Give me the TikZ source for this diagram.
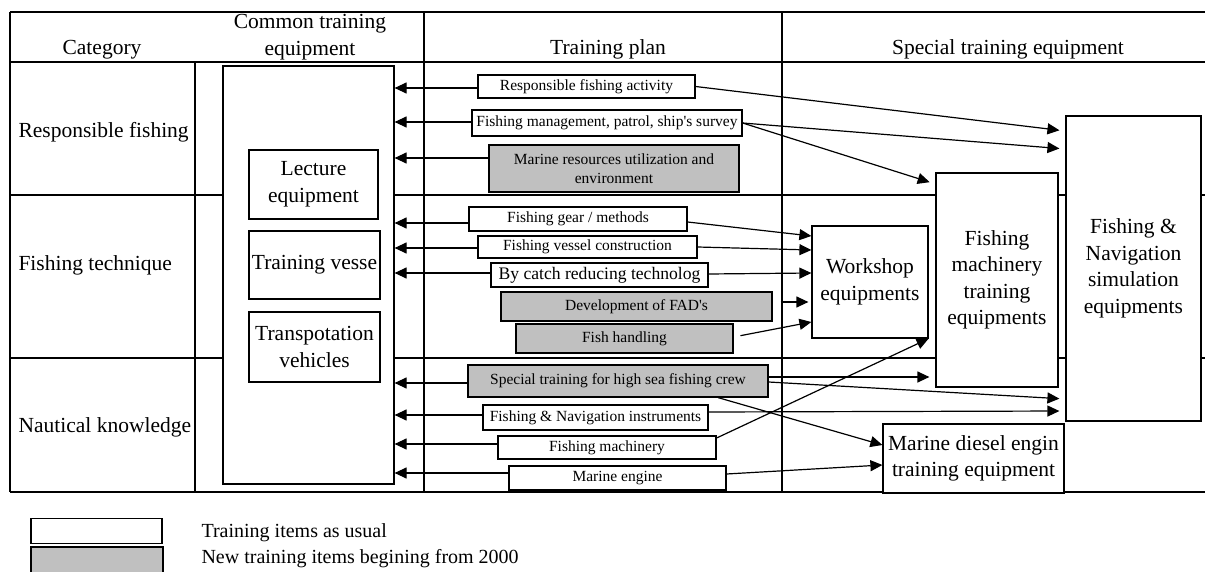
\documentclass[tikz,border=0pt]{standalone}
\usepackage{fontspec}
\setmainfont{Liberation Serif}
\usetikzlibrary{arrows.meta}
\definecolor{newitem}{RGB}{192,192,192}
\newcommand{\bigtxt}{\fontsize{21.5}{26.5}\selectfont}
\newcommand{\smalltxt}{\fontsize{15.5}{19}\selectfont}
\newcommand{\midtxt}{\fontsize{17.6}{20}\selectfont}
\newcommand{\legtxt}{\fontsize{20}{24}\selectfont}

\begin{document}
\begin{tikzpicture}[x=1pt,y=-1pt,
    tableline/.style={line width=1.2pt},
    box/.style={draw, line width=1.2pt, fill=white, inner sep=0pt, align=center},
    item/.style={box, font=\smalltxt},
    newbox/.style={item, fill=newitem},
    equip/.style={box, font=\bigtxt},
    arr/.style={line width=1.2pt, -{Triangle[length=12pt,width=11pt]}},
    short/.style={shorten >=6pt}]
  \useasboundingbox (0,0) rectangle (1205,572);
  % Table rules
  \foreach \yy in {12,62,195,358,492}
    \draw[tableline] (10,\yy) -- (1205,\yy);
  \draw[tableline] (10,12) -- (10,492);
  \draw[tableline] (195,62) -- (195,492);
  \draw[tableline] (424,12) -- (424,492);
  \draw[tableline] (782,12) -- (782,492);
  % Header
  \node[anchor=base, font=\bigtxt] (hcat) at (102,55) {Category};
  \node[font=\bigtxt, align=center] (hcom) at (310,37) {Common training\\equipment};
  \node[anchor=base, font=\bigtxt] (hplan) at (608,55) {Training plan};
  \node[anchor=base, font=\bigtxt] (hspec) at (1008,55) {Special training equipment};
  % Categories
  \node[anchor=base west, font=\bigtxt] (crf) at (15,138) {Responsible fishing};
  \node[anchor=base west, font=\bigtxt] (cft) at (15,270) {Fishing technique};
  \node[anchor=base west, font=\bigtxt] (cnk) at (15,432) {Nautical knowledge};
  % Common training equipment
  \node[box, minimum width=171pt, minimum height=418pt] (com) at (308.5,275) {};
  \node[equip, minimum width=129pt, minimum height=69pt] (lec) at (313.5,184.5) {Lecture\\equipment};
  \node[equip, minimum width=131pt, minimum height=68pt] (tves) at (314.5,265) {Training vesse};
  \node[equip, minimum width=131pt, minimum height=70pt] (trv) at (314.5,347) {Transpotation\\vehicles};
  % Training plan: responsible fishing
  \node[item, minimum width=217pt, minimum height=23pt] (rfa) at (586.5,86.5) {Responsible fishing activity};
  \node[item, minimum width=270pt, minimum height=26pt] (fmp) at (607,123) {Fishing management, patrol, ship\textquotesingle s survey};
  \node[newbox, minimum width=250pt, minimum height=47pt] (mru) at (614,168.5) {Marine resources utilization and\\environment};
  % Training plan: fishing technique
  \node[item, minimum width=218pt, minimum height=24pt] (fgm) at (578,219) {Fishing gear / methods};
  \node[item, minimum width=219pt, minimum height=22pt] (fvc) at (587.5,247) {Fishing vessel construction};
  \node[item, font=\midtxt, minimum width=217pt, minimum height=24pt] (bct) at (599.5,275) {By catch reducing technolog};
  \node[newbox, minimum width=271pt, minimum height=29pt] (fad) at (636.5,306.5) {Development of FAD\textquotesingle s};
  \node[newbox, minimum width=217pt, minimum height=29pt] (fh) at (624.5,338.5) {Fish handling};
  % Training plan: nautical knowledge
  \node[newbox, minimum width=300pt, minimum height=32pt] (stc) at (618,381) {Special training for high sea fishing crew};
  \node[item, minimum width=225pt, minimum height=25pt] (fni) at (595.5,417.5) {Fishing \& Navigation instruments};
  \node[item, minimum width=218pt, minimum height=23pt] (fmc) at (607,447.5) {Fishing machinery};
  \node[item, minimum width=217pt, minimum height=24pt] (men) at (617.5,478) {Marine engine};
  % Special training equipment
  \node[equip, minimum width=116pt, minimum height=112pt] (wsh) at (870,282) {Workshop\\equipments};
  \node[equip, minimum width=122pt, minimum height=214pt] (fmt) at (997,280) {Fishing\\machinery\\training\\equipments};
  \node[equip, minimum width=135pt, minimum height=305pt] (fns) at (1133.5,268.5) {Fishing \&\\Navigation\\simulation\\equipments};
  \node[equip, minimum width=181pt, minimum height=69pt] (mde) at (973.5,458.5) {Marine diesel engin\\training equipment};
  % Arrows to common equipment
  \foreach \nd/\yy in {rfa/88,fmp/122,mru/158,fgm/223,fvc/248,bct/273,stc/383,fni/415,fmc/444,men/473}
    \draw[arr] (\nd.west |- {(0,\yy)}) -- (com.east |- {(0,\yy)});
  % Arrows to special equipment
  \draw[arr, short] (rfa.east) -- (fns.west |- {(0,131)});
  \draw[arr, short] (fmp.east) -- (fns.west |- {(0,149)});
  \draw[arr, short] (fmp.east) -- (fmt.west |- {(0,184)});
  \draw[arr] (fgm.east |- {(0,222)}) -- (wsh.west |- {(0,236)});
  \draw[arr] (fvc.east) -- (wsh.west |- {(0,250)});
  \draw[arr] (bct.east |- {(0,274)}) -- (wsh.west |- {(0,273)});
  \draw[arr, shorten <=8pt, shorten >=3pt] (fad.east |- {(0,302)}) -- (wsh.west |- {(0,302)});
  \draw[arr, shorten <=7pt] (fh.east |- {(0,337)}) -- (wsh.west |- {(0,322)});
  \draw[arr, short] (stc.east |- {(0,377)}) -- (fmt.west |- {(0,377)});
  \draw[arr, short] (stc.east |- {(0,382)}) -- (fns.west |- {(0,399)});
  \draw[arr] (stc.south -| {(718,0)}) -- (mde.west |- {(0,445)});
  \draw[arr, short] (fni.east |- {(0,412)}) -- (fns.west |- {(0,411)});
  \draw[arr] (fmc.east |- {(0,438)}) -- (wsh.south east);
  \draw[arr] (men.east |- {(0,474)}) -- (mde.west |- {(0,465)});
  % Legend
  \node[box, minimum width=131pt, minimum height=25pt] (lgw) at (96.5,531) {};
  \node[box, fill=newitem, minimum width=132pt, minimum height=29pt] (lgg) at (97,561.5) {};
  \node[anchor=west, font=\legtxt] (lgwt) at (198,533) {Training items as usual};
  \node[anchor=west, font=\legtxt] (lggt) at (198,559) {New training items begining from 2000};
\end{tikzpicture}
\end{document}
